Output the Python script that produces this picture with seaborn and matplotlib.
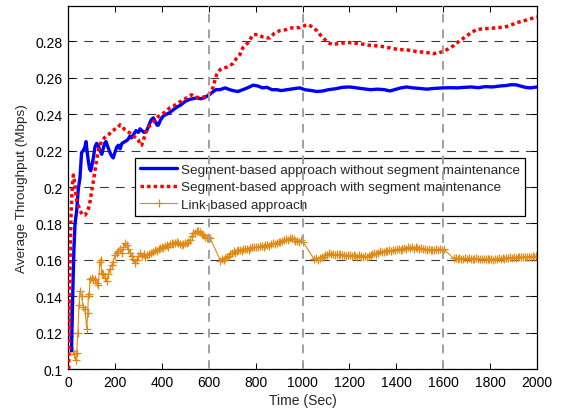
import matplotlib
matplotlib.use("Agg")
import matplotlib.pyplot as plt
import seaborn as sns

sns.set_style("ticks")
plt.rcParams['font.family'] = ['Liberation Sans', 'DejaVu Sans']

# ---------------- data ----------------
blue_t = [15, 20, 25, 30, 37, 44, 51, 58, 65, 72, 77, 82, 87, 92, 97, 102, 108, 115, 122, 129,
          136, 144, 150, 156, 162, 170, 179, 186, 193, 200, 208, 215, 222, 230, 243, 255, 264, 271,
          280, 290, 300, 307, 315, 325, 336, 345, 355, 364, 372, 380, 385, 395, 406, 420, 435, 449,
          465, 480, 499, 515, 530, 549, 565, 580, 600, 615, 630, 648, 670, 690, 704, 725, 745, 765,
          790, 810, 830, 848, 870, 891, 910, 933, 960, 989, 1010, 1040, 1060, 1087, 1110, 1140,
          1170, 1202, 1230, 1260, 1290, 1320, 1350, 1373, 1400, 1420, 1444, 1470, 1500, 1530, 1560,
          1600, 1629, 1660, 1690, 1720, 1750, 1780, 1810, 1840, 1870, 1885, 1910, 1930, 1950, 1970,
          1990, 2000]
blue_y = [0.110, 0.140, 0.165, 0.180, 0.187, 0.199, 0.205, 0.219, 0.220, 0.222, 0.225, 0.219,
          0.214, 0.210, 0.209, 0.212, 0.216, 0.222, 0.224, 0.223, 0.220, 0.218, 0.221, 0.224, 0.225,
          0.222, 0.219, 0.217, 0.216, 0.219, 0.222, 0.223, 0.221, 0.224, 0.225, 0.226, 0.228, 0.227,
          0.229, 0.231, 0.230, 0.232, 0.231, 0.230, 0.231, 0.234, 0.237, 0.238, 0.236, 0.234, 0.234,
          0.237, 0.239, 0.240, 0.241, 0.2425, 0.244, 0.245, 0.247, 0.248, 0.2485, 0.249, 0.2485,
          0.249, 0.2505, 0.252, 0.2535, 0.2535, 0.2545, 0.2535, 0.253, 0.2525, 0.2535, 0.2545, 0.256,
          0.2555, 0.2545, 0.2548, 0.2535, 0.2535, 0.253, 0.2535, 0.254, 0.2545, 0.2535, 0.253, 0.2525,
          0.2528, 0.2535, 0.254, 0.2548, 0.255, 0.2545, 0.254, 0.2535, 0.2538, 0.2535, 0.2528, 0.2538,
          0.2545, 0.255, 0.2545, 0.2542, 0.2538, 0.2542, 0.2545, 0.2546, 0.2545, 0.2548, 0.255,
          0.2546, 0.2552, 0.255, 0.2555, 0.2558, 0.2562, 0.2562, 0.2555, 0.2548, 0.2545, 0.2548, 0.255]

red_t = [3, 6, 9, 13, 18, 23, 28, 33, 38, 44, 51, 58, 65, 72, 80, 87, 94, 101, 108, 115, 122, 129,
         136, 144, 155, 165, 175, 186, 197, 207, 215, 222, 232, 243, 254, 264, 278, 293, 300, 307,
         314, 322, 329, 336, 350, 364, 378, 392, 406, 420, 435, 450, 467, 485, 505, 527, 545, 563,
         580, 600, 610, 618, 625, 634, 648, 665, 680, 691, 704, 720, 733, 746, 765, 790, 810, 830,
         848, 861, 880, 904, 930, 955, 975, 989, 1005, 1019, 1035, 1050, 1061, 1080, 1100, 1115,
         1130, 1150, 1175, 1202, 1230, 1260, 1280, 1300, 1330, 1360, 1390, 1416, 1440, 1465, 1488,
         1510, 1535, 1557, 1580, 1599, 1620, 1645, 1671, 1695, 1720, 1744, 1770, 1800, 1842, 1870,
         1895, 1915, 1940, 1965, 1991, 2000]
red_y = [0.100, 0.130, 0.160, 0.185, 0.200, 0.2066, 0.203, 0.197, 0.192, 0.190, 0.187, 0.1856,
         0.1845, 0.1845, 0.186, 0.188, 0.192, 0.1977, 0.203, 0.209, 0.215, 0.2198, 0.223, 0.2253,
         0.227, 0.228, 0.229, 0.2308, 0.2315, 0.2325, 0.233, 0.2342, 0.233, 0.2314, 0.2305, 0.2297,
         0.228, 0.227, 0.226, 0.2231, 0.223, 0.226, 0.229, 0.2314, 0.234, 0.236, 0.238, 0.2395,
         0.2405, 0.242, 0.2436, 0.2445, 0.246, 0.2474, 0.249, 0.2507, 0.2495, 0.249, 0.2495, 0.2507,
         0.253, 0.2546, 0.258, 0.2618, 0.2645, 0.2655, 0.266, 0.2667, 0.268, 0.271, 0.2728, 0.2766,
         0.279, 0.2838, 0.2838, 0.2825, 0.282, 0.282, 0.2845, 0.286, 0.2865, 0.2875, 0.2875, 0.2877,
         0.2885, 0.2893, 0.2885, 0.287, 0.286, 0.283, 0.2805, 0.279, 0.2783, 0.2788, 0.2792, 0.2794,
         0.279, 0.2785, 0.278, 0.2777, 0.2775, 0.2768, 0.276, 0.2755, 0.2755, 0.275, 0.2744, 0.2742,
         0.2738, 0.2733, 0.2738, 0.2744, 0.2758, 0.2778, 0.2805, 0.2825, 0.285, 0.2866, 0.287, 0.2872,
         0.2877, 0.2882, 0.2893, 0.2904, 0.2912, 0.2922, 0.2932, 0.2935]

link_t = [5, 9, 14, 20, 26, 32, 37, 42, 47, 51, 58, 65, 72, 80, 84, 87, 91, 94, 101, 108, 115, 122,
          129, 136, 140, 143, 150, 158, 165, 172, 179, 186, 193, 200, 208, 215, 222, 229, 236, 243,
          250, 257, 265, 272, 279, 286, 293, 300, 307, 315, 322, 329, 336, 345, 355, 364, 372, 378,
          386, 393, 400, 407, 414, 421, 428, 435, 442, 449, 456, 463, 470, 477, 485, 492, 499, 506,
          513, 520, 527, 534, 541, 548, 556, 563, 570, 577, 584, 591, 598, 605,
          650, 657, 664, 671, 678, 685, 692, 699, 706, 713, 720, 727, 734, 741, 748, 755, 762, 770,
          778, 786, 794, 802, 810, 818, 826, 834, 842, 850, 858, 866, 874, 882, 890, 898, 906, 914,
          922, 930, 938, 946, 954, 962, 970, 978, 986, 994, 1002,
          1050, 1058, 1066, 1074, 1082, 1090, 1098, 1106, 1114, 1122, 1130, 1138, 1146, 1154, 1162,
          1170, 1178, 1186, 1194, 1202, 1210, 1218, 1226, 1234, 1242, 1250, 1258, 1266, 1274, 1282,
          1290, 1298, 1306, 1314, 1322, 1330, 1338, 1346, 1354, 1362, 1370, 1378, 1386, 1394, 1402,
          1410, 1418, 1426, 1434, 1442, 1450, 1458, 1466, 1474, 1482, 1490, 1498, 1506, 1514, 1522,
          1530, 1538, 1546, 1554, 1562, 1570, 1578, 1586, 1594, 1602,
          1645, 1653, 1661, 1669, 1677, 1685, 1693, 1701, 1709, 1717, 1725, 1733, 1741, 1749, 1757,
          1765, 1773, 1781, 1789, 1797, 1805, 1813, 1821, 1829, 1837, 1845, 1853, 1861, 1869, 1877,
          1885, 1893, 1901, 1909, 1917, 1925, 1933, 1941, 1949, 1957, 1965, 1973, 1981, 1989, 1997,
          2000]
link_y = [0.118, 0.136, 0.120, 0.110, 0.108, 0.105, 0.109, 0.120, 0.135, 0.143, 0.140, 0.134,
          0.133, 0.122, 0.131, 0.140, 0.141, 0.1497, 0.150, 0.149, 0.1497, 0.147, 0.146, 0.159,
          0.160, 0.153, 0.152, 0.150, 0.1486, 0.152, 0.155, 0.157, 0.159, 0.1624, 0.164, 0.165,
          0.1662, 0.164, 0.167, 0.169, 0.168, 0.1662, 0.164, 0.162, 0.1607, 0.158, 0.160, 0.162,
          0.1635, 0.162, 0.163, 0.1615, 0.1624, 0.163, 0.164, 0.1645, 0.1655, 0.1651, 0.166, 0.1665,
          0.167, 0.1665, 0.1675, 0.168, 0.1672, 0.1685, 0.169, 0.1688, 0.1695, 0.170, 0.169, 0.1685,
          0.168, 0.1688, 0.169, 0.169, 0.1698, 0.171, 0.173, 0.1745, 0.175, 0.1758, 0.1756, 0.1752,
          0.174, 0.1735, 0.1725, 0.1718, 0.1728, 0.1722,
          0.1596, 0.1605, 0.160, 0.1612, 0.1618, 0.162, 0.163, 0.1635, 0.1646, 0.164, 0.1648,
          0.1652, 0.1655, 0.1648, 0.1658, 0.166, 0.1662, 0.1655, 0.1665, 0.167, 0.1668, 0.1672,
          0.1668, 0.1675, 0.1678, 0.1672, 0.168, 0.1682, 0.1676, 0.1685, 0.169, 0.1688, 0.1695,
          0.170, 0.1696, 0.1705, 0.171, 0.1712, 0.1708, 0.1718, 0.172, 0.1715, 0.1706, 0.1702,
          0.170, 0.1708, 0.170,
          0.1602, 0.1608, 0.160, 0.1612, 0.1618, 0.1615, 0.1625, 0.1628, 0.1635, 0.163, 0.1632,
          0.1625, 0.163, 0.1628, 0.1632, 0.1625, 0.1628, 0.1622, 0.1626, 0.1624, 0.162, 0.1625,
          0.1622, 0.1618, 0.1624, 0.162, 0.1618, 0.1622, 0.1618, 0.162, 0.1628, 0.1632, 0.1636,
          0.1632, 0.164, 0.1646, 0.1642, 0.1645, 0.165, 0.1646, 0.1652, 0.1648, 0.1655, 0.1652,
          0.1657, 0.166, 0.1655, 0.1662, 0.1665, 0.166, 0.1668, 0.1665, 0.167, 0.1662, 0.1668,
          0.1664, 0.166, 0.1665, 0.1658, 0.166, 0.1655, 0.1658, 0.1652, 0.1656, 0.1652, 0.1658,
          0.1655, 0.166, 0.1655, 0.1658,
          0.1608, 0.161, 0.1604, 0.161, 0.1606, 0.1602, 0.1608, 0.1605, 0.161, 0.1604, 0.1607,
          0.1603, 0.1608, 0.1604, 0.1606, 0.1602, 0.1607, 0.1603, 0.1606, 0.1602, 0.1605, 0.1601,
          0.1606, 0.1604, 0.1608, 0.1605, 0.161, 0.1607, 0.1612, 0.1608, 0.1614, 0.161, 0.1615,
          0.1612, 0.1618, 0.1614, 0.1617, 0.1613, 0.1618, 0.1615, 0.1618, 0.1614, 0.162, 0.1617,
          0.1621, 0.162]

labels = ["Segment-based approach without segment maintenance",
          "Segment-based approach with segment maintenance",
          "Link-based approach"]
event_times = [600, 1000, 1600]
x_ticks = [0, 200, 400, 600, 800, 1000, 1200, 1400, 1600, 1800, 2000]
y_ticks = [0.1, 0.12, 0.14, 0.16, 0.18, 0.2, 0.22, 0.24, 0.26, 0.28]
y_tick_labels = ["0.1", "0.12", "0.14", "0.16", "0.18", "0.2", "0.22", "0.24", "0.26", "0.28"]

# ---------------- figure ----------------
FS = 10
fig = plt.figure(figsize=(5.62, 4.10), dpi=100)
ax = fig.add_axes([68 / 562, 1 - 370 / 410, 469 / 562, 363 / 410])

orange = "#E08A14"
sns.lineplot(x=blue_t, y=blue_y, ax=ax, color="#0000FF", lw=2.4, sort=False,
             estimator=None, label=labels[0], zorder=3)
red_line = sns.lineplot(x=red_t, y=red_y, ax=ax, color="#FF0000", lw=2.5, sort=False,
                        estimator=None, label=labels[1], zorder=4).lines[-1]
red_line.set_dashes((1.0, 0.9))
red_line.set_dash_capstyle("butt")
sns.lineplot(x=link_t, y=link_y, ax=ax, color=orange, lw=0.8, sort=False, estimator=None,
             marker="+", markersize=6, markeredgewidth=0.9, markeredgecolor=orange,
             label=labels[2], zorder=2)

ax.set_xlim(0, 2000)
ax.set_ylim(0.1, 0.2995)
ax.set_xticks(x_ticks)
ax.set_xticklabels([str(v) for v in x_ticks])
ax.set_yticks(y_ticks)
ax.set_yticklabels(y_tick_labels)

# horizontal dashed grid
ax.yaxis.grid(True, color="#3A3A3A", linestyle=(0, (7.9, 6.3)), lw=0.8, zorder=0)
ax.xaxis.grid(False)
ax.set_axisbelow(True)

for t in event_times:
    ax.axvline(t, color="#A0A0A0", lw=1.4, linestyle=(0, (4.5, 3.6)), zorder=6)

ax.tick_params(direction="in", top=True, right=True, length=4, width=0.7,
               labelsize=FS, colors="black", pad=4)
for s in ax.spines.values():
    s.set_visible(True)
    s.set_linewidth(0.9)
    s.set_color("black")

ax.set_xlabel("Time (Sec)", fontsize=FS, labelpad=3)
ax.set_ylabel("Average Throughput (Mbps)", fontsize=9.7, labelpad=5)

leg = ax.legend(loc="upper left", bbox_to_anchor=((135 - 68) / 469, (370 - 159) / 363),
                borderaxespad=0, fontsize=9.7, frameon=True, fancybox=False,
                handlelength=2.7, labelspacing=0.38, borderpad=0.4, handletextpad=0.3,
                facecolor="white", edgecolor="black", framealpha=1)
leg.get_frame().set_linewidth(0.9)
leg.set_zorder(5)

fig.savefig("out.png", dpi=100)
